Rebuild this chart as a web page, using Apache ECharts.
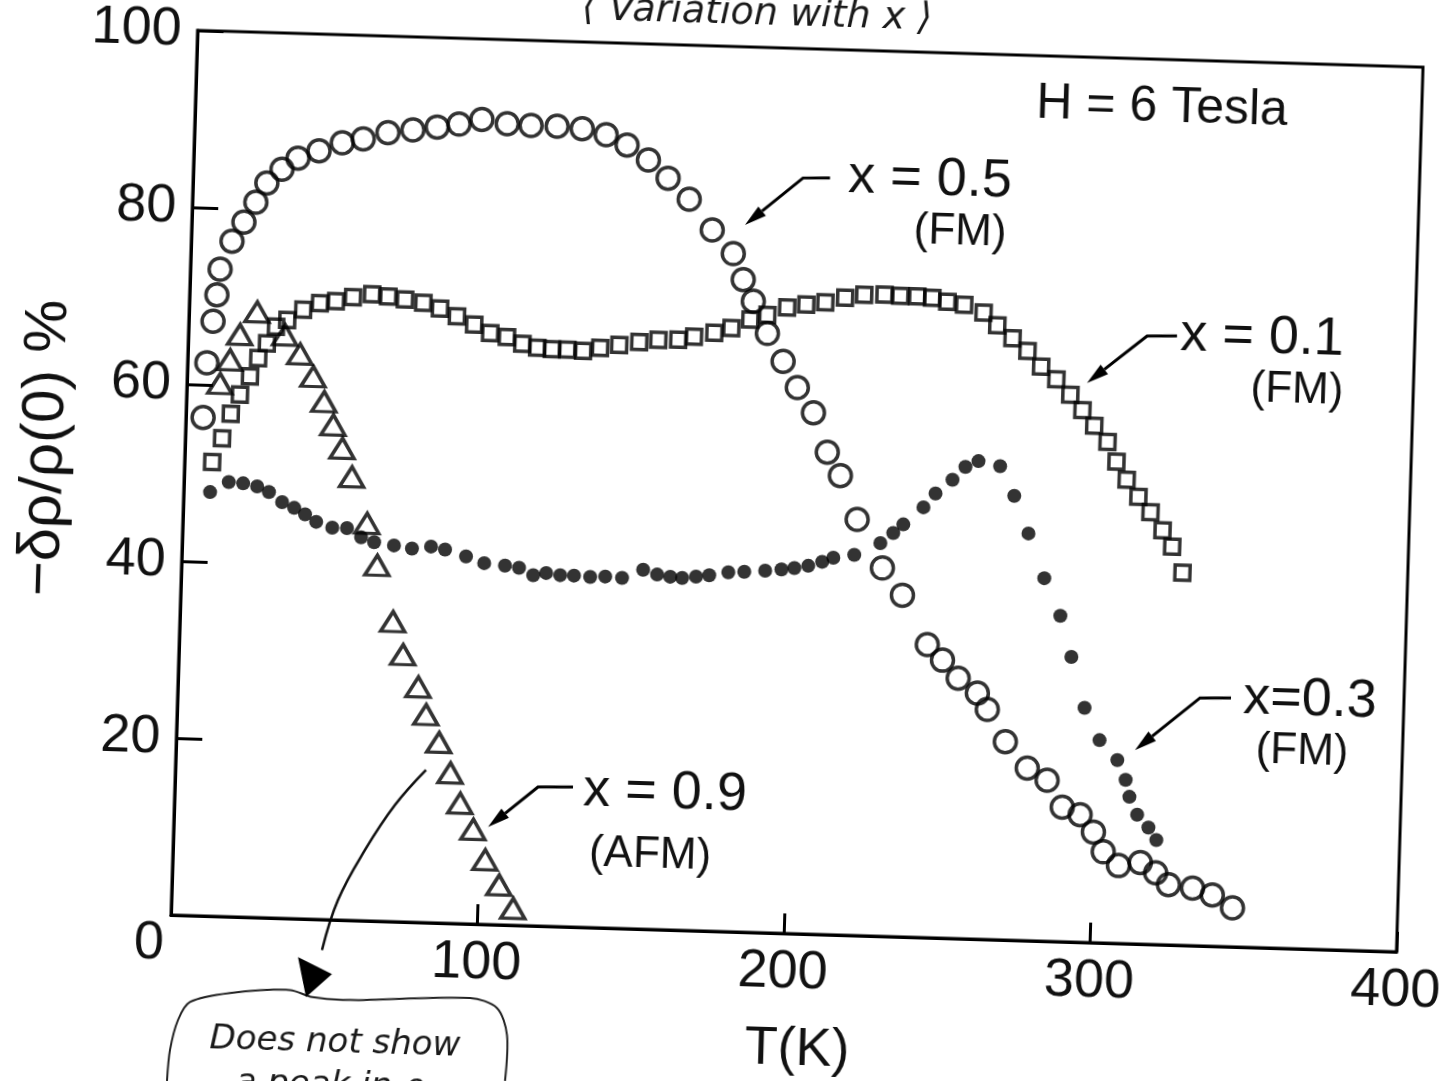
<!DOCTYPE html>
<html>
<head>
<meta charset="utf-8">
<title>Magnetoresistance vs temperature</title>
<script src="https://cdn.jsdelivr.net/npm/echarts@6/dist/echarts.min.js"></script>
<style>
  html, body { margin: 0; padding: 0; background: #fff; overflow: hidden; width: 1453px; height: 1081px; }
  /* the sheet is slightly skewed: the whole figure is turned about the plot origin */
  #chart { position: absolute; left: -60px; top: -60px; width: 1573px; height: 1201px;
           transform-origin: 231px 975px; transform: rotate(1.72deg); }
</style>
</head>
<body>
<div id="chart"></div>
<script>
// ---- data: T (K) and -δρ/ρ(0) (%) at H = 6 T ----
const tempX05 = [5.6, 6.3, 7.9, 8.9, 9.7, 13.3, 17.0, 20.7, 24.1, 28.9, 34.0, 40.8, 48.3, 55.1, 63.1, 71.2, 79.1, 86.2, 93.6, 101.9,
  109.7, 118.2, 126.4, 134.3, 141.2, 148.3, 154.9, 162.0, 169.8, 176.9, 180.4, 183.9, 188.8, 194.2, 199.1, 204.6, 209.5, 214.0, 219.9, 228.6,
  235.4, 244.0, 249.1, 254.4, 260.8, 264.2, 270.4, 277.8, 284.4, 289.6, 295.5, 300.0, 303.4, 308.5, 315.6, 320.7, 325.0, 332.9, 339.4, 346.1];
const mrX05 = [56.3, 62.5, 67.2, 70.2, 73.1, 76.3, 78.5, 80.8, 83.0, 84.6, 85.9, 86.8, 87.8, 88.3, 89.1, 89.5, 89.9, 90.3, 90.9, 90.5,
  90.4, 90.4, 90.2, 89.6, 88.5, 86.9, 84.9, 82.6, 79.2, 76.6, 73.7, 71.3, 67.7, 64.6, 61.7, 58.9, 54.5, 51.9, 47.0, 41.6,
  38.6, 33.1, 31.4, 29.4, 27.8, 26.0, 22.4, 19.5, 18.2, 15.2, 14.4, 12.5, 10.3, 8.8, 9.2, 8.1, 6.8, 6.5, 5.8, 4.4];

const tempX01 = [9.0, 12.0, 14.6, 17.4, 20.5, 23.0, 25.7, 28.5, 32.1, 37.2, 42.6, 47.8, 53.3, 59.5, 64.8, 70.3, 76.3, 81.8, 87.4, 93.1,
  98.4, 103.9, 109.0, 113.9, 118.7, 123.7, 128.9, 134.4, 140.6, 147.1, 153.3, 159.8, 164.9, 171.5, 177.0, 183.1, 188.6, 195.0, 201.2, 207.4,
  213.8, 220.0, 226.6, 231.8, 237.3, 242.2, 247.2, 252.7, 259.1, 263.7, 268.8, 273.8, 278.4, 283.5, 288.2, 292.3, 296.3, 300.8, 303.9, 307.4,
  311.4, 315.5, 319.6, 322.9, 326.5];
const mrX01 = [51.3, 54.0, 56.8, 59.0, 61.1, 63.2, 64.9, 66.8, 67.6, 68.8, 69.6, 69.9, 70.4, 70.8, 70.6, 70.3, 70.0, 69.4, 68.6, 67.7,
  66.8, 66.4, 65.7, 65.3, 65.2, 65.2, 65.1, 65.5, 65.9, 66.3, 66.6, 66.7, 67.1, 67.6, 68.2, 69.2, 69.8, 70.7, 71.1, 71.4,
  72.0, 72.4, 72.5, 72.4, 72.4, 72.3, 71.9, 71.6, 70.8, 69.4, 68.0, 66.6, 64.9, 63.5, 61.8, 60.1, 58.4, 56.6, 54.4, 52.4,
  50.5, 48.8, 46.8, 45.0, 42.1];

const tempX03 = [8.6, 14.6, 19.3, 23.9, 27.8, 32.2, 36.2, 39.8, 43.5, 48.8, 53.6, 58.3, 62.6, 69.1, 75.0, 81.2, 85.8, 92.7, 98.7, 105.5,
  110.1, 114.8, 119.0, 123.6, 128.1, 133.4, 138.3, 143.8, 150.6, 155.2, 159.5, 163.4, 167.9, 172.2, 178.4, 183.6, 190.4, 195.7, 199.9, 204.4,
  208.9, 212.5, 219.3, 227.7, 231.8, 235.0, 241.4, 245.2, 250.6, 254.7, 258.9, 266.0, 270.9, 275.9, 281.5, 287.1, 291.1, 295.9, 301.1, 307.1,
  310.0, 311.4, 314.1, 317.9, 320.6];
const mrX03 = [47.9, 49.1, 49.0, 48.7, 48.1, 47.0, 46.4, 45.7, 44.9, 44.3, 44.3, 43.3, 42.8, 42.5, 42.2, 42.5, 42.2, 41.5, 40.8, 40.6,
  40.4, 39.6, 39.9, 39.7, 39.7, 39.6, 39.7, 39.6, 40.6, 40.1, 39.9, 39.8, 40.0, 40.2, 40.6, 40.7, 40.9, 41.1, 41.3, 41.6,
  42.1, 42.6, 43.0, 44.4, 45.6, 46.6, 48.6, 50.2, 51.8, 53.3, 54.0, 53.5, 50.2, 46.0, 41.0, 36.8, 32.2, 26.5, 22.9, 20.7,
  18.5, 16.6, 14.6, 13.2, 11.8];

const tempX09 = [10.8, 13.8, 16.8, 22.2, 31.5, 36.6, 41.1, 44.9, 48.1, 51.3, 54.7, 60.1, 63.8, 69.5, 73.1, 78.4, 81.2, 85.7, 89.7, 93.2,
  97.7, 101.9, 106.7, 111.5];
const mrX09 = [60.2, 62.9, 65.8, 68.4, 65.9, 63.8, 61.3, 58.5, 55.9, 53.3, 50.1, 44.9, 40.2, 33.9, 30.2, 26.6, 23.5, 20.4, 17.0, 13.6,
  10.7, 7.3, 4.5, 1.9];

const xTicks = [0, 100, 200, 300, 400];
const yTicks = [0, 20, 40, 60, 80, 100];

// ---- layout helpers ----
const TILT = 0.03;          // skew of the sheet, radians
const PAD = 60;             // extra canvas margin round the page
const OX = 171, OY = 915;   // page position of the plot origin
const PLOT_W = 1226, PLOT_H = 885;
const FONT = "'Liberation Sans', Arimo, 'DejaVu Sans', sans-serif";
const HAND = "'DejaVu Sans', 'Noto Sans', sans-serif";
const Y_NAME = '−δρ/ρ(0) %';

// page position -> canvas position inside the turned box
function u(px, py) {
  const dx = px - OX, dy = py - OY, c = Math.cos(TILT), s = Math.sin(TILT);
  return [dx * c + dy * s + OX + PAD, -dx * s + dy * c + OY + PAD];
}

function label(text, px, py, size, extra, rotation) {
  const p = u(px, py);
  return {
    type: 'text', x: p[0], y: p[1], silent: true, rotation: rotation || 0,
    style: Object.assign({
      text: text, fontSize: size, fontFamily: FONT, fill: '#111',
      align: 'center', verticalAlign: 'middle', textAlign: 'center', textVerticalAlign: 'middle'
    }, extra || {})
  };
}

function arrow(pts) {
  const p = pts.map(q => u(q[0], q[1]));
  const a = p[p.length - 2], b = p[p.length - 1];
  const ang = Math.atan2(b[1] - a[1], b[0] - a[0]);
  const L = 22, W = 6;
  const bx = b[0] - L * Math.cos(ang), by = b[1] - L * Math.sin(ang);
  const head = [b, [bx - W * Math.sin(ang), by + W * Math.cos(ang)], [bx + W * Math.sin(ang), by - W * Math.cos(ang)]];
  const line = p.slice(0, -1).concat([[bx, by]]);
  return [
    { type: 'polyline', silent: true, shape: { points: line }, style: { stroke: '#000', lineWidth: 3, fill: null } },
    { type: 'polygon', silent: true, shape: { points: head }, style: { fill: '#000' } }
  ];
}

const zip = (xs, ys) => xs.map((x, i) => [x, ys[i]]);

const hollow = { color: 'rgba(255,255,255,0)', borderColor: '#000', borderWidth: 3.5 };
const handStyle = { fontFamily: HAND, fontStyle: 'italic', fill: '#1a1a1a' };

const graphics = [].concat(
  [label('H = 6 Tesla', 1162, 108, 50)],
  [label('x = 0.5', 930, 180, 54), label('(FM)', 960, 232, 44)], arrow([[830, 178], [803, 178], [745, 225]]),
  [label('x = 0.1', 1262, 338, 54), label('(FM)', 1297, 390, 44)], arrow([[1177, 336], [1147, 336], [1087, 383]]),
  [label('x=0.3', 1310, 700, 54), label('(FM)', 1302, 752, 44)], arrow([[1231, 698], [1200, 698], [1135, 750]]),
  [label('x = 0.9', 665, 793, 54), label('(AFM)', 650, 855, 44)], arrow([[573, 787], [538, 787], [488, 827]]),
  [label('0', 149, 943, 54)],
  [label('T(K)', 797, 1050, 54)],
  [label(Y_NAME, 45, 448, 60, null, Math.PI / 2)],
  // handwritten notes
  [label('⟨ Variation with x ⟩', 757, 14, 38, handStyle)],
  [label('Does not show', 335, 1043, 34, handStyle),
   label('a peak in ρ', 330, 1086, 34, handStyle)],
  [{ type: 'polyline', silent: true,
     shape: { points: [[167, 1081], [170, 1050], [178, 1020], [190, 1002], [230, 993], [290, 990], [312, 997], [350, 1000], [470, 998], [497, 1008], [507, 1035], [505, 1081]].map(q => u(q[0], q[1])), smooth: 0.3 },
     style: { stroke: '#222', lineWidth: 2, fill: null } },
   { type: 'polyline', silent: true,
     shape: { points: [[426, 770], [395, 805], [365, 850], [338, 900], [322, 950]].map(q => u(q[0], q[1])), smooth: 0.4 },
     style: { stroke: '#111', lineWidth: 2.5, fill: null } },
   { type: 'polygon', silent: true,
     shape: { points: [[298, 957], [332, 974], [306, 997]].map(q => u(q[0], q[1])) },
     style: { fill: '#000' } }]
);

const chart = echarts.init(document.getElementById('chart'), null, { renderer: 'canvas' });
chart.setOption({
  animation: false,
  backgroundColor: '#fff',
  grid: { left: OX + PAD, top: OY + PAD - PLOT_H, width: PLOT_W, height: PLOT_H,
          show: true, borderColor: '#000', borderWidth: 3, backgroundColor: 'transparent' },
  xAxis: {
    type: 'value', min: xTicks[0], max: xTicks[xTicks.length - 1], interval: 100,
    axisLine: { show: true, lineStyle: { color: '#000', width: 3 } },
    axisTick: { show: true, inside: true, length: 20, lineStyle: { color: '#000', width: 3 } },
    splitLine: { show: false },
    axisLabel: { fontSize: 54, fontFamily: FONT, color: '#111', margin: 12, showMinLabel: true, showMaxLabel: true,
                 formatter: v => (v === 0 ? '' : String(v)) }
  },
  yAxis: {
    type: 'value', min: yTicks[0], max: yTicks[yTicks.length - 1], interval: 20,
    axisLine: { show: true, lineStyle: { color: '#000', width: 3 } },
    axisTick: { show: true, inside: true, length: 26, lineStyle: { color: '#000', width: 3 } },
    splitLine: { show: false },
    axisLabel: { fontSize: 54, fontFamily: FONT, color: '#111', margin: 16,
                 formatter: v => (v === 0 ? '' : String(v)) }
  },
  series: [
    { name: 'x = 0.5', type: 'scatter', silent: true, symbol: 'circle', symbolSize: 22,
      itemStyle: hollow, data: zip(tempX05, mrX05) },
    { name: 'x = 0.1', type: 'scatter', silent: true, symbol: 'rect', symbolSize: 15,
      itemStyle: hollow, data: zip(tempX01, mrX01) },
    { name: 'x = 0.9', type: 'scatter', silent: true, symbol: 'triangle', symbolSize: [24, 20],
      itemStyle: hollow, data: zip(tempX09, mrX09) },
    { name: 'x = 0.3', type: 'scatter', silent: true, symbol: 'circle', symbolSize: 14,
      itemStyle: { color: '#000' }, data: zip(tempX03, mrX03) }
  ],
  graphic: { elements: graphics }
});
</script>
</body>
</html>
